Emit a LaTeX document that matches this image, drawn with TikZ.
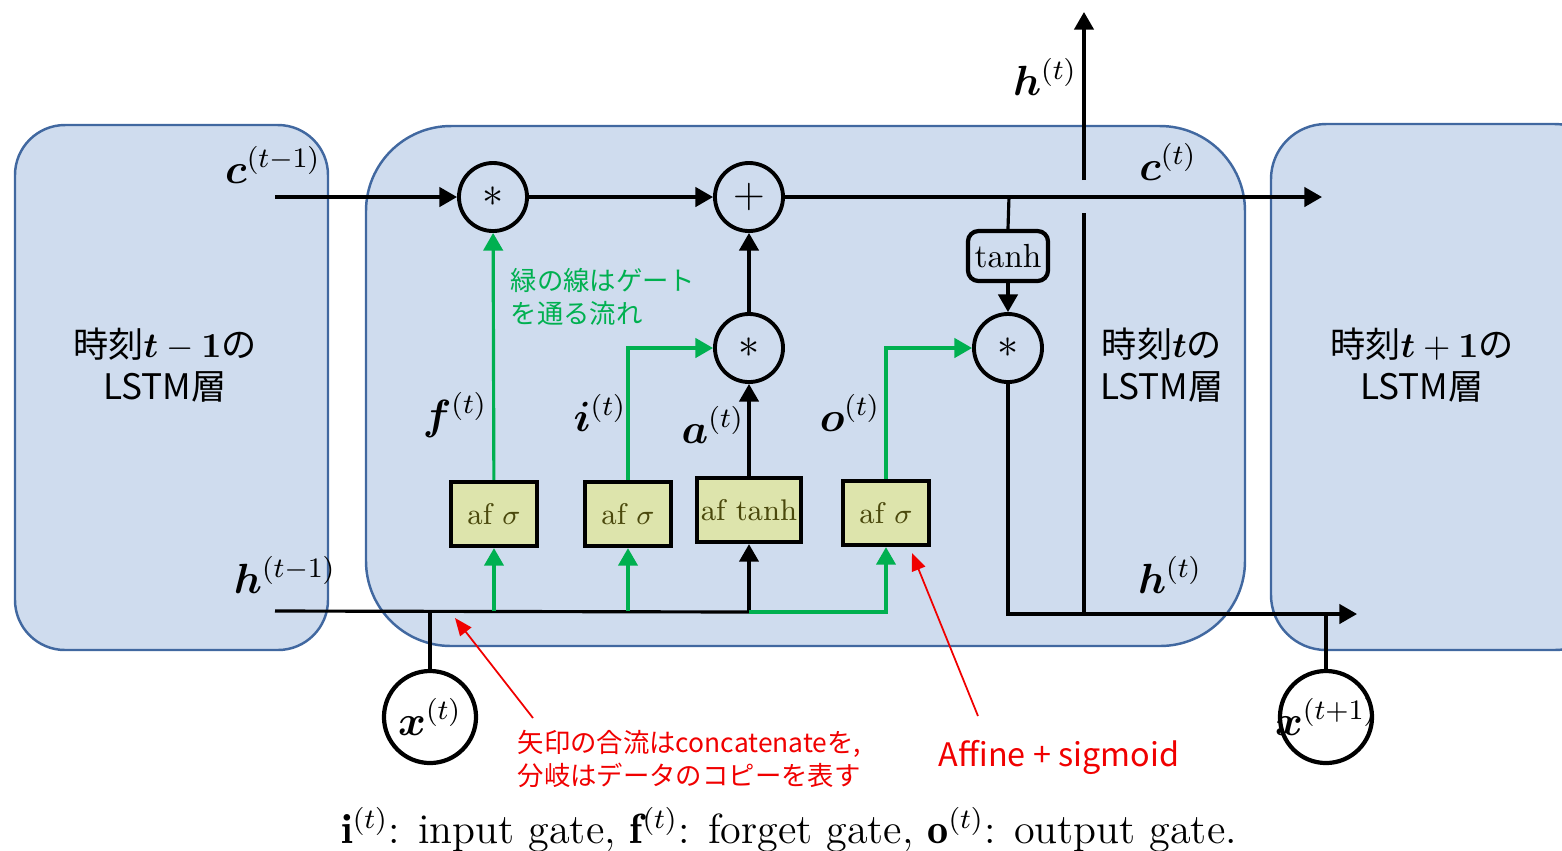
\documentclass[tikz,border=0pt]{standalone}
\usepackage{amsmath,amssymb}
\usepackage{bm}
\usepackage{fontspec}
\newfontfamily\jpfont{Noto Sans CJK JP}
\usepackage{tikz}
\usetikzlibrary{
  arrows.meta,
  calc,
  positioning
}
\definecolor{layerfill}{RGB}{207,220,238}
\definecolor{layerline}{RGB}{65,104,160}
\definecolor{gatefill}{RGB}{221,228,172}
\definecolor{gatetext}{RGB}{74,72,12}
\definecolor{flowgreen}{RGB}{0,176,80}
\definecolor{notered}{RGB}{240,0,0}
\tikzset{
  >={Triangle[length=5pt,width=5.5pt]},
  layer/.style={fill=layerfill, draw=layerline, line width=0.7pt},
  opnode/.style={draw, circle, line width=1.1pt, minimum size=0.68cm, inner sep=0pt, font=\large},
  afbox/.style={draw, line width=1.2pt, fill=gatefill, text=gatetext, minimum width=0.86cm, minimum height=0.64cm, inner sep=1pt, font=\fontsize{8.5}{10}\selectfont},
  tanhbox/.style={draw, rounded corners=3pt, line width=1.2pt, minimum width=0.8cm, minimum height=0.5cm, inner sep=1pt, font=\fontsize{9.5}{11}\selectfont},
  inputnode/.style={draw, circle, line width=1.2pt, fill=white, minimum size=0.92cm, inner sep=0pt},
  wire/.style={line width=0.9pt},
  arrow/.style={->, line width=0.9pt},
  gwire/.style={line width=0.9pt, flowgreen},
  garrow/.style={->, line width=0.9pt, flowgreen},
  redarrow/.style={-{Triangle[length=5pt,width=4pt]}, notered, line width=0.5pt},
  jplabel/.style={font=\jpfont\normalsize, align=center},
  mathlabel/.style={font=\large, inner sep=1pt},
  jpnote/.style={font=\jpfont\fontsize{7.5}{9.2}\selectfont, align=left, inner sep=0pt}
}

\begin{document}
\begin{tikzpicture}[x=0.01cm, y=-0.01cm]
  \useasboundingbox (0,0) rectangle (1562,850);
  \clip (0,0) rectangle (1562,850);

  % LSTM layers
  \draw[layer, rounded corners=0.5cm] (15,125) rectangle (328,650);
  \draw[layer, rounded corners=0.85cm] (366,126) rectangle (1245,646);
  \draw[layer, rounded corners=0.55cm] (1271,124) rectangle (1610,650);
  \node[jplabel] (prevlayer) at (165,365) {時刻$\bm{t}-\bm{1}$の\\LSTM層};
  \node[jplabel] (curlayer) at (1162,365) {時刻$\bm{t}$の\\LSTM層};
  \node[jplabel] (nextlayer) at (1422,365) {時刻$\bm{t}+\bm{1}$の\\LSTM層};

  % operations
  \node[opnode] (mulf) at (493,197) {$\ast$};
  \node[opnode] (plus) at (749,197) {$+$};
  \node[opnode] (mula) at (749,348) {$\ast$};
  \node[opnode] (mulo) at (1008,348) {$\ast$};
  \node[tanhbox] (tanhc) at (1008,256) {tanh};

  % gates
  \node[afbox] (afF) at (494,514) {af $\sigma$};
  \node[afbox] (afI) at (628,514) {af $\sigma$};
  \node[afbox, minimum width=1.04cm] (afA) at (749,510) {af tanh};
  \node[afbox] (afO) at (886,513) {af $\sigma$};

  % inputs
  \node[inputnode] (xcur) at (430,717) {};
  \node[mathlabel] (xcurlbl) at (xcur) {$\bm{x}^{(t)}$};
  \node[inputnode] (xnext) at (1326,717) {};
  \node[mathlabel] (xnextlbl) at (xnext) {$\bm{x}^{(t+1)}$};

  \coordinate (cin) at (275,197);
  \coordinate (cout) at (1322,197);
  \coordinate (cbranch) at (1009,197);
  \coordinate (hin) at (275,611);
  \coordinate (hjoin) at (749,612);
  \coordinate (hnext) at (1357,614);
  \coordinate (hsplit) at (1084,614);
  \coordinate (hgaplow) at (1084,213);
  \coordinate (hgaphigh) at (1084,180);
  \coordinate (htop) at (1084,12);

  % cell state
  \draw[arrow] (cin) -- (mulf);
  \draw[arrow] (mulf) -- (plus);
  \draw[arrow] (plus) -- (cout);
  \draw[wire] (cbranch) -- (tanhc.north);
  \draw[arrow] (tanhc) -- (mulo);

  % hidden state
  \draw[wire] (hin) -- (hjoin);
  \draw[wire] (xcur.north) -- (xcur |- hin);
  \draw[garrow] (afF |- hin) -- (afF.south);
  \draw[garrow] (afI |- hin) -- (afI.south);
  \draw[arrow] (hjoin) -- (afA.south);
  \draw[garrow] (hjoin) -| (afO.south);

  % gate outputs
  \draw[garrow] (afF) -- (mulf);
  \draw[garrow] (afI.north) |- (mula.west);
  \draw[arrow] (afA) -- (mula);
  \draw[arrow] (mula) -- (plus);
  \draw[garrow] (afO.north) |- (mulo.west);

  % output
  \draw[arrow] (mulo.south) |- (hnext);
  \draw[wire] (xnext.north) -- (xnext |- hnext);
  \draw[wire] (hsplit) -- (hgaplow);
  \draw[arrow] (hgaphigh) -- (htop);

  % labels
  \node[mathlabel] (cprevlbl) at (273,165) {$\bm{c}^{(t-1)}$};
  \node[mathlabel] (hprevlbl) at (285,575) {$\bm{h}^{(t-1)}$};
  \node[mathlabel] (flbl) at (455,415) {$\bm{f}^{(t)}$};
  \node[mathlabel] (ilbl) at (600,413) {$\bm{i}^{(t)}$};
  \node[mathlabel] (albl) at (713,425) {$\bm{a}^{(t)}$};
  \node[mathlabel] (olbl) at (850,413) {$\bm{o}^{(t)}$};
  \node[mathlabel] (htoplbl) at (1045,77) {$\bm{h}^{(t)}$};
  \node[mathlabel] (ccurlbl) at (1168,162) {$\bm{c}^{(t)}$};
  \node[mathlabel] (hcurlbl) at (1170,575) {$\bm{h}^{(t)}$};

  % notes
  \node[jpnote, text=flowgreen, anchor=west] (gatenote) at (510,297) {緑の線はゲート\\を通る流れ};
  \node[jpnote, text=notered, anchor=west] (concatnote) at (517,759) {矢印の合流はconcatenateを,\\分岐はデータのコピーを表す};
  \node[jpnote, text=notered, font=\jpfont\fontsize{9.2}{11}\selectfont] (affinenote) at (1059,757) {Affine + sigmoid};
  \coordinate (concattail) at (533,718);
  \coordinate (concathead) at (455,618);
  \coordinate (affinetail) at (978,716);
  \coordinate (affinehead) at (912,553);
  \draw[redarrow] (concattail) -- (concathead);
  \draw[redarrow] (affinetail) -- (affinehead);

  \node[font=\large] (caption) at (789,830) {$\mathbf{i}^{(t)}$: input gate, $\mathbf{f}^{(t)}$: forget gate, $\mathbf{o}^{(t)}$: output gate.};
\end{tikzpicture}
\end{document}
